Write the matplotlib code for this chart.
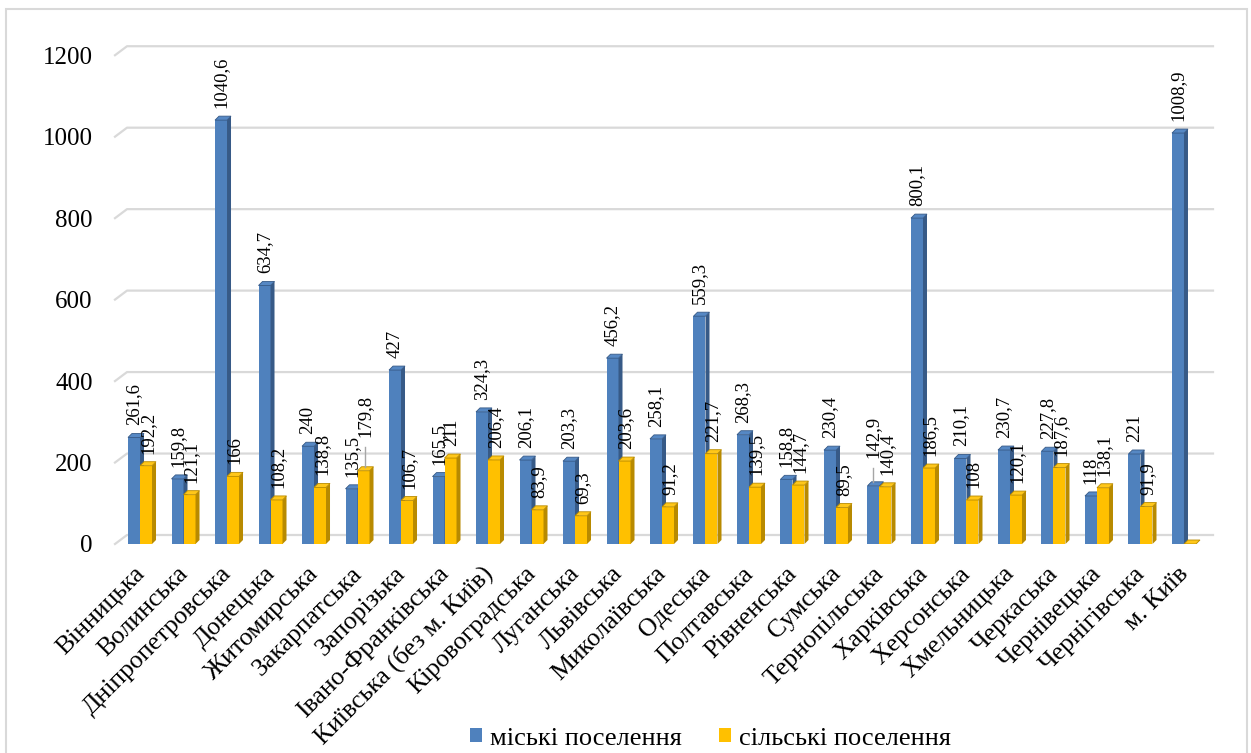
"""Urban vs rural settlements by region, 3D-style clustered columns."""

import matplotlib
matplotlib.use("Agg")
import matplotlib.pyplot as plt
from matplotlib.patches import Polygon, Patch, Rectangle
from matplotlib.transforms import ScaledTranslation

plt.rcParams["font.family"] = ["Liberation Serif", "DejaVu Serif"]

regions = [
    "Вінницька", "Волинська", "Дніпропетровська", "Донецька", "Житомирська",
    "Закарпатська", "Запорізька", "Івано-Франківська", "Київська (без м. Київ)",
    "Кіровоградська", "Луганська", "Львівська", "Миколаївська", "Одеська",
    "Полтавська", "Рівненська", "Сумська", "Тернопільська", "Харківська",
    "Херсонська", "Хмельницька", "Черкаська", "Чернівецька", "Чернігівська",
    "м. Київ",
]
urban = [261.6, 159.8, 1040.6, 634.7, 240, 135.5, 427, 165.5, 324.3, 206.1,
         203.3, 456.2, 258.1, 559.3, 268.3, 158.8, 230.4, 142.9, 800.1, 210.1,
         230.7, 227.8, 118, 221, 1008.9]
rural = [192.2, 121.1, 166, 108.2, 138.8, 179.8, 106.7, 211, 206.4, 83.9,
         69.3, 203.6, 91.2, 221.7, 139.5, 144.7, 89.5, 140.4, 186.5, 108,
         120.1, 187.6, 138.1, 91.9, 0]
series_names = ["міські поселення", "сільські поселення"]
y_ticks = [0, 200, 400, 600, 800, 1000, 1200]

BLUE, BLUE_SIDE, BLUE_TOP = "#4F81BD", "#375A87", "#5688C4"
YELLOW, YELLOW_SIDE, YELLOW_TOP = "#FFC000", "#B88A00", "#FFC71A"
GRID = "#D9D9D9"

W, H = 1251, 753
fig = plt.figure(figsize=(W / 100, H / 100), dpi=100)
ax = fig.add_axes([115 / W, (H - 544) / H, 1098 / W, 501 / H])
ax.set_xlim(-0.575, 24.667)
ax.set_ylim(0, 1230)
for s in ax.spines.values():
    s.set_visible(False)

# data units per pixel
ux = (24.667 + 0.575) / 1098
uy = 1230 / 501
bw = 12 * ux               # front face width
ddx, ddy = 4 * ux, 4 * uy  # bar depth


def bar3d(x0, h, face, side, top, z):
    ax.bar(x0, h, width=bw, align="edge", color=face, zorder=z)
    ax.add_patch(Polygon([(x0 + bw, 0), (x0 + bw + ddx, ddy),
                          (x0 + bw + ddx, h + ddy), (x0 + bw, h)],
                         fc=side, ec="none", zorder=z))
    ax.add_patch(Polygon([(x0, h), (x0 + bw, h), (x0 + bw + ddx, h + ddy),
                          (x0 + ddx, h + ddy)], fc=top, ec=side, lw=0.6,
                         zorder=z))


def fmt(v):
    return f"{v:g}".replace(".", ",")


# back-wall gridlines with the short slanted side-wall piece
x_lo, x_hi = ax.get_xlim()
for v in y_ticks:
    ax.plot([x_lo, x_lo + 12 * ux, x_hi], [v, v + 9 * uy, v + 9 * uy],
            color=GRID, lw=1.6, zorder=0, clip_on=False)

# labels that Excel pushed up, with leader lines (pixels)
lifted = {("r", 5): 22, ("u", 17): 16}

for i, (u, r) in enumerate(zip(urban, rural)):
    bar3d(i - bw, u, BLUE, BLUE_SIDE, BLUE_TOP, 2 + i * 0.01)
    bar3d(i, r, YELLOW, YELLOW_SIDE, YELLOW_TOP, 3 + i * 0.01)
    for key, x, v in (("u", i - bw / 2, u), ("r", i + bw / 2 + 1.5 * ux, r)):
        if v == 0:
            continue
        lift = lifted.get((key, i), 0)
        ax.annotate(fmt(v), xy=(x, v + ddy), xytext=(0, (8 + lift) * 0.72),
                    textcoords="offset points", rotation=90, ha="center",
                    va="bottom", fontsize=13.5, zorder=5, annotation_clip=False)
        if lift:
            ax.plot([x, x], [v + ddy, v + ddy + (lift - 2) * uy],
                    color="#A6A6A6", lw=1, zorder=5)

ax.set_yticks(y_ticks)
ax.set_yticklabels([str(v) for v in y_ticks], fontsize=18)
ax.tick_params(axis="y", length=0, pad=16)

ax.set_xticks(range(len(regions)))
ax.set_xticklabels(regions, fontsize=18.5, rotation=45, ha="right",
                   va="center", rotation_mode="anchor")
ax.tick_params(axis="x", length=0, pad=19)
shift = ScaledTranslation(1 / 100, 0, fig.dpi_scale_trans)
for lbl in ax.get_xticklabels():
    lbl.set_transform(lbl.get_transform() + shift)

fig.legend(handles=[Patch(fc=BLUE), Patch(fc=YELLOW)], labels=series_names,
           loc="center", bbox_to_anchor=(0.568, 0.019), ncol=2, frameon=False,
           fontsize=19, handlelength=0.45, handleheight=0.45,
           handletextpad=0.3, columnspacing=1.4)

# outer chart frame
fig.add_artist(Rectangle((6 / W, -0.1), 1241 / W, (H - 9) / H + 0.1,
                         transform=fig.transFigure, fill=False, ec=GRID, lw=1.5))

fig.savefig("out.png", dpi=100)
plt.close(fig)
